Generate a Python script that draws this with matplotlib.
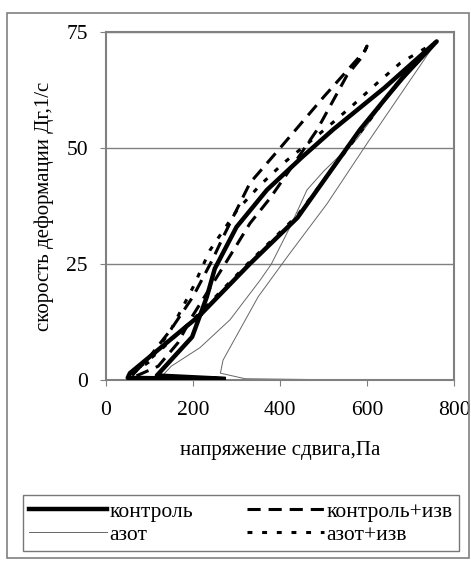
import matplotlib.pyplot as plt
from matplotlib.patches import Rectangle

# напряжение сдвига (Па) и скорость деформации (1/с), петли гистерезиса
kontrol_x = [270, 117, 198, 232, 250, 300, 370, 450, 522, 640, 760, 680, 584, 440, 330, 216, 55, 50, 270]
kontrol_y = [0.3, 1, 9.3, 18, 24, 33, 41, 48, 54, 63, 73, 65, 54, 35, 25, 14, 1.5, 0.5, 0.2]

kontrol_izv_x = [60, 100, 150, 200, 245, 269, 331, 400, 500, 595, 600, 588, 554, 485, 420, 377, 331, 280, 240, 200, 165, 120, 60]
kontrol_izv_y = [1, 5, 11, 18, 26, 30.8, 42.5, 50, 61, 71, 72, 69.6, 65.7, 53.9, 45, 39.2, 33.8, 26, 20, 14, 8, 3, 0.5]

azot_x = [500, 320, 263, 269, 350, 420, 508, 600, 680, 760, 640, 577, 500, 462, 423, 380, 354, 285, 216, 150, 130]
azot_y = [0.1, 0.3, 1.5, 4.3, 18, 27, 38, 51, 62, 73, 60, 52, 45, 41, 33, 25, 21.5, 13, 7, 3, 1]

azot_izv_x = [62, 100, 150, 200, 239, 301, 354, 407, 487, 515, 568, 623, 676, 760, 660, 618, 540, 440, 330, 216, 120, 60]
azot_izv_y = [1.5, 4, 11, 20, 28, 36.6, 42, 46.7, 52.8, 55, 59.3, 64, 68.3, 73, 63, 57.5, 48, 35.5, 25.5, 14.5, 6, 1.5]

plt.rcParams['font.family'] = ['Liberation Serif', 'DejaVu Serif']

fig = plt.figure(figsize=(4.71, 5.64), dpi=100)
ax = fig.add_axes([0.225, 0.326, 0.739, 0.617])

ax.plot(azot_x, azot_y, color='#666666', lw=0.7, label='азот', zorder=2)
ax.plot(kontrol_x, kontrol_y, color='black', lw=3.2, label='контроль', zorder=3,
        solid_joinstyle='round')
ax.plot(kontrol_izv_x, kontrol_izv_y, color='black', lw=2.2, dashes=(4.3, 2.6),
        label='контроль+изв', zorder=4)
ax.plot(azot_izv_x, azot_izv_y, color='black', lw=2.2, dashes=(1.6, 3.2),
        label='азот+изв', zorder=5)

ax.set_xlim(0, 800)
ax.set_ylim(0, 75)
ax.set_xticks([0, 200, 400, 600, 800])
ax.set_yticks([0, 25, 50, 75])
ax.yaxis.grid(True, color='#808080', lw=1)
ax.set_axisbelow(True)
for s in ax.spines.values():
    s.set_color('#808080')
    s.set_linewidth(1.5)
ax.tick_params(labelsize=15.5, color='#808080', length=4)
ax.tick_params(axis='x', pad=11)
ax.tick_params(axis='y', pad=9)
ax.set_xlabel('напряжение сдвига,Па', fontsize=15, labelpad=15)
ax.set_ylabel('скорость деформации Дг,1/с', fontsize=15, labelpad=9)

handles, labels = ax.get_legend_handles_labels()
order = [1, 0, 2, 3]
leg = fig.legend([handles[i] for i in order], [labels[i] for i in order],
                 loc='upper left', bbox_to_anchor=(23 / 471, 1 - 495 / 564),
                 ncol=2, fontsize=15.5, frameon=True, fancybox=False,
                 edgecolor='#555555', handlelength=3.6, handletextpad=0.1,
                 borderpad=0.3, borderaxespad=0, labelspacing=0.15, columnspacing=2.5)
leg.get_frame().set_linewidth(1)

fig.patches.append(Rectangle((7 / 471, 1 - 558 / 564), 462 / 471, 545 / 564,
                             transform=fig.transFigure, fill=False,
                             edgecolor='#808080', lw=1.2))

fig.savefig('out.png', dpi=100)
